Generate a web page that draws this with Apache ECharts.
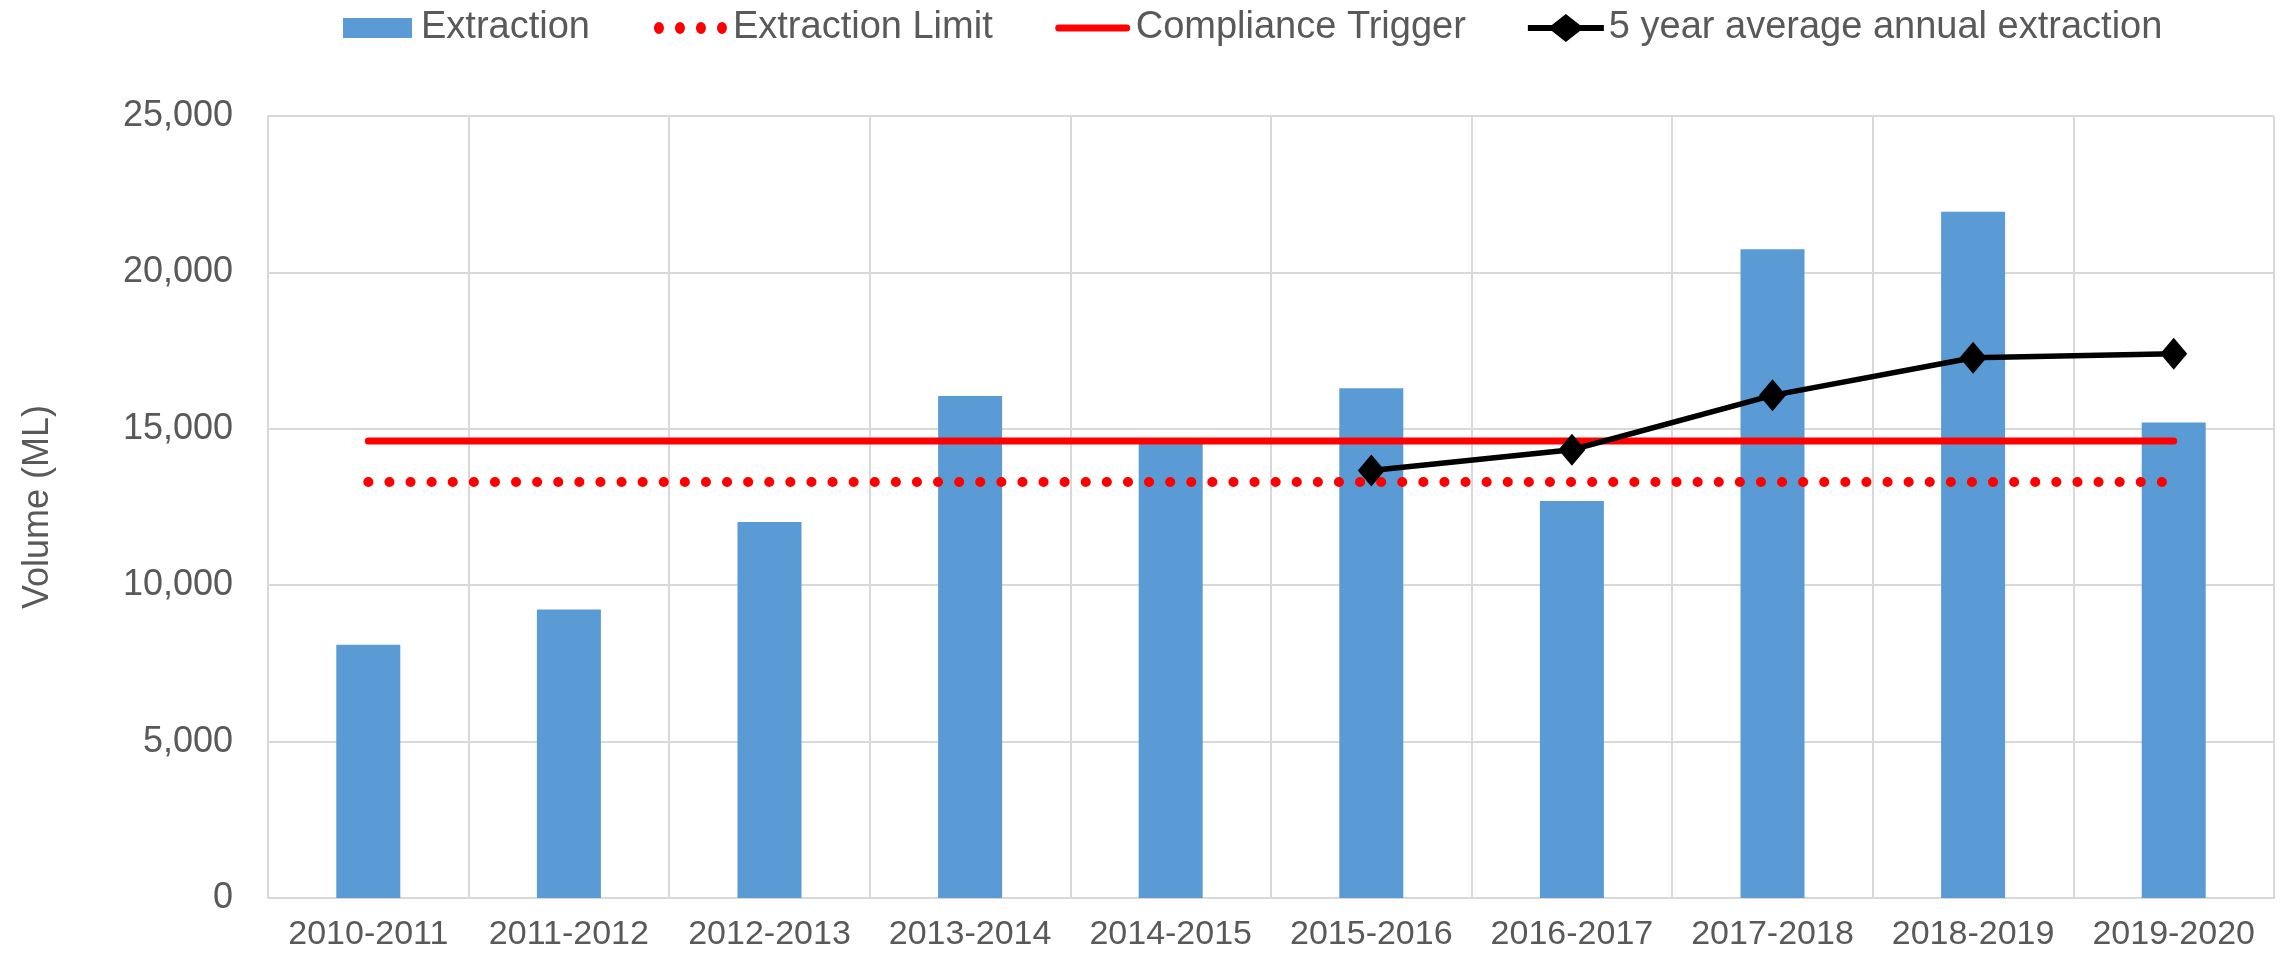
<!DOCTYPE html>
<html>
<head>
<meta charset="utf-8">
<script src="https://cdn.jsdelivr.net/npm/echarts@6/dist/echarts.min.js"></script>
<style>
  html, body { margin: 0; padding: 0; background: #fff; }
  #chart { width: 2293px; height: 954px; }
</style>
</head>
<body>
<div id="chart"></div>
<script>
// data
var years = ['2010-2011', '2011-2012', '2012-2013', '2013-2014', '2014-2015',
             '2015-2016', '2016-2017', '2017-2018', '2018-2019', '2019-2020'];
var extraction = [8100, 9220, 12020, 16050, 14550, 16300, 12690, 20740, 21940, 15200];
var extractionLimit = [13300, 13300, 13300, 13300, 13300, 13300, 13300, 13300, 13300, 13300];
var complianceTrigger = [14610, 14610, 14610, 14610, 14610, 14610, 14610, 14610, 14610, 14610];
var fiveYearAvg = [null, null, null, null, null, 13670, 14330, 16070, 17270, 17400];
var yTicks = [0, 5000, 10000, 15000, 20000, 25000];

var textColor = '#595959';
var gridColor = '#D9D9D9';
var font = 'Liberation Sans, Arial, sans-serif';

// legend icons, all drawn in the same 76x28 box (the lone moveTo points fix the box)
var box = 'M0,0M76,28';
var iconBar = 'path://' + box + 'M3,4h69v20h-69z';
var iconDots = 'path://' + box +
  'M2,14a5,6 0 1,0 10,0a5,6 0 1,0 -10,0' +
  'M23,14a5,6 0 1,0 10,0a5,6 0 1,0 -10,0' +
  'M44,14a5,6 0 1,0 10,0a5,6 0 1,0 -10,0' +
  'M65,14a5,6 0 1,0 10,0a5,6 0 1,0 -10,0';
var iconSolid = 'path://' + box + 'M4,10.5h68a3.5,3.5 0 0,1 0,7h-68a3.5,3.5 0 0,1 0,-7z';
var iconAvg = 'path://' + box + 'M0,11h24l14,-11l14,11h24v6h-24l-14,11l-14,-11h-24z';

var chart = echarts.init(document.getElementById('chart'));

var option = {
  animation: false,
  textStyle: { fontFamily: font },
  legend: {
    left: 335,
    top: 4,
    itemWidth: 76,
    itemHeight: 28,
    itemGap: 62,
    textStyle: { fontSize: 38, color: textColor, fontFamily: font },
    data: [
      { name: 'Extraction', icon: iconBar },
      { name: 'Extraction Limit', icon: iconDots },
      { name: 'Compliance Trigger', icon: iconSolid },
      { name: '5 year average annual extraction', icon: iconAvg }
    ]
  },
  grid: { left: 268, right: 19, top: 116, bottom: 56 },
  xAxis: {
    type: 'category',
    data: years,
    axisLine: { lineStyle: { color: gridColor, width: 2 } },
    axisTick: { show: false },
    splitLine: { show: true, interval: 0, lineStyle: { color: gridColor, width: 2 } },
    axisLabel: { interval: 0, fontSize: 34, color: textColor, margin: 20 }
  },
  yAxis: {
    type: 'value',
    min: yTicks[0],
    max: yTicks[yTicks.length - 1],
    interval: yTicks[1] - yTicks[0],
    name: 'Volume (ML)',
    nameLocation: 'middle',
    nameGap: 212,
    nameTextStyle: { fontSize: 36, color: textColor },
    axisLine: { show: true, lineStyle: { color: gridColor, width: 2 } },
    splitLine: { lineStyle: { color: gridColor, width: 2 } },
    axisLabel: {
      fontSize: 36, color: textColor, margin: 35,
      formatter: function (v) { return v.toLocaleString('en-US'); }
    }
  },
  series: [
    {
      name: 'Extraction',
      type: 'bar',
      data: extraction,
      barWidth: 64,
      itemStyle: { color: '#5B9BD5' },
      z: 1
    },
    {
      name: 'Extraction Limit',
      type: 'line',
      data: extractionLimit,
      symbol: 'none',
      itemStyle: { color: '#FF0000' },
      lineStyle: { color: '#FF0000', width: 10, type: [0.1, 21], cap: 'round' },
      z: 3
    },
    {
      name: 'Compliance Trigger',
      type: 'line',
      data: complianceTrigger,
      symbol: 'none',
      itemStyle: { color: '#FF0000' },
      lineStyle: { color: '#FF0000', width: 7, cap: 'round' },
      z: 4
    },
    {
      name: '5 year average annual extraction',
      type: 'line',
      data: fiveYearAvg,
      symbol: 'diamond',
      symbolSize: [27, 32],
      itemStyle: { color: '#000000' },
      lineStyle: { color: '#000000', width: 5.5 },
      z: 5
    }
  ]
};

chart.setOption(option);
</script>
</body>
</html>
